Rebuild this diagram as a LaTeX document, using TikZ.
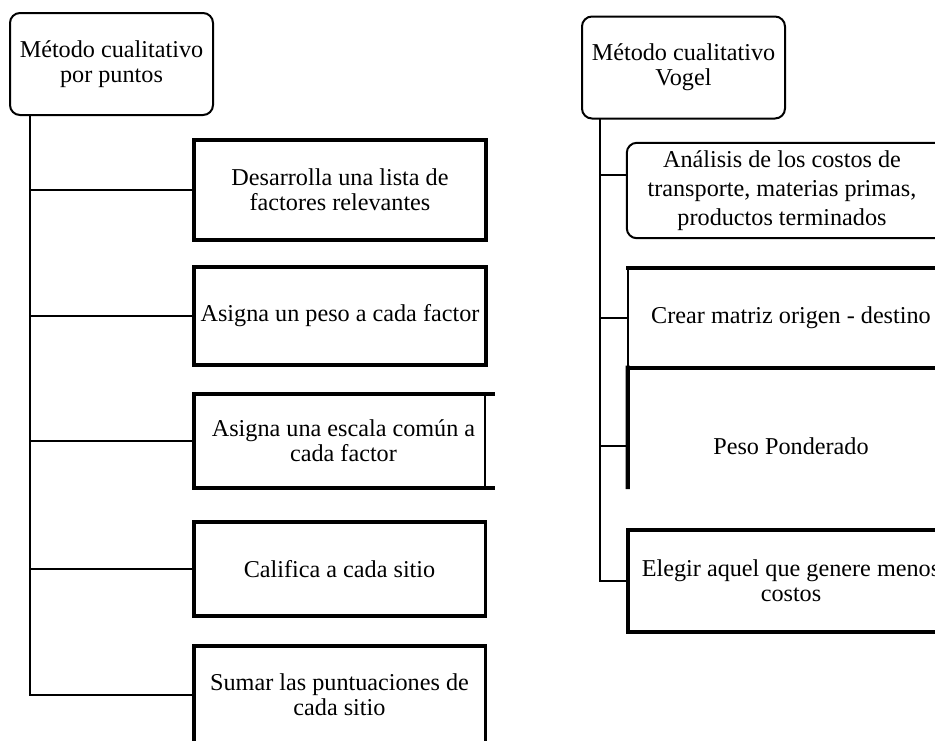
\documentclass[tikz,border=0pt]{standalone}
\usepackage{fontspec}
\setmainfont{Liberation Serif}
\usetikzlibrary{calc}
\begin{document}
\begin{tikzpicture}[x=1pt,y=-1pt,
  txt/.style={font=\fontsize{24.2}{25}\selectfont, align=center, inner sep=0pt, anchor=center},
  rootbox/.style={txt, draw, line width=2pt, rounded corners=10pt, minimum width=203pt, minimum height=102pt},
  conn/.style={line width=2pt},
  heavy/.style={line width=4.2pt, line cap=rect},
  mid/.style={line width=2.6pt, line cap=rect},
  light/.style={line width=2pt, line cap=rect}]
\useasboundingbox (0,0) rectangle (935,740);
\clip (0,0) rectangle (935,740);

% ---------- left tree ----------
\node[rootbox] (rootL) at (111.5,64) {Método cualitativo\\por puntos};
\coordinate (tL) at (30,115);

\node[txt, minimum width=292pt, minimum height=100pt] (b1) at (340,190) {Desarrolla una lista de\\factores relevantes};
\node[txt, minimum width=292pt, minimum height=98pt] (b2) at (340,316) {Asigna un peso a cada factor};
\node[txt, minimum width=299pt, minimum height=94pt] (b3) at (343.5,441) {Asigna una escala común a\\cada factor};
\node[txt, minimum width=291pt, minimum height=94pt] (b4) at (339.5,569) {Califica a cada sitio};
\node[txt, minimum width=291pt, minimum height=98pt] (b5) at (339.5,695) {Sumar las puntuaciones de\\cada sitio};

\draw[heavy] (b1.north west) rectangle (b1.south east);
\draw[heavy] (b2.north west) rectangle (b2.south east);
\draw[heavy] (b3.north east) -- (b3.north west) -- (b3.south west) -- (b3.south east);
\draw[light] ($(b3.north east)+(-8,0)$) -- ($(b3.south east)+(-8,0)$);
\draw[heavy] (b4.north east) -- (b4.north west) -- (b4.south west) -- (b4.south east);
\draw[mid] (b4.north east) -- (b4.south east);
\draw[heavy] (b5.north east) -- (b5.north west) -- (b5.south west) -- (b5.south east);
\draw[mid] (b5.north east) -- (b5.south east);

\draw[conn] (tL) |- (b5.west);
\draw[conn] (tL |- b1.west) -- (b1.west);
\draw[conn] (tL |- b2.west) -- (b2.west);
\draw[conn] (tL |- b3.west) -- (b3.west);
\draw[conn] (tL |- b4.west) -- (b4.west);

% ---------- right tree ----------
\node[rootbox] (rootR) at (683.5,67.5) {Método cualitativo\\Vogel};
\coordinate (tR) at (600,118.5);

\node[txt, font=\fontsize{24.2}{29}\selectfont,
      minimum width=310pt, minimum height=95pt] (A) at (782,190.5)
      {Análisis de los costos de\\transporte, materias primas,\\productos terminados};
\draw[line width=2pt, rounded corners=10pt] (A.north west) rectangle ($(A.south east)+(20,0)$);
\node[txt, minimum width=326pt, minimum height=100pt] (B) at (791,318) {Crear matriz origen - destino};
\node[txt, minimum width=326pt, minimum height=156pt] (C) at (791,446) {Peso Ponderado};
\node[txt, minimum width=326pt, minimum height=102pt] (D) at (791,581) {Elegir aquel que genere menos\\costos};

\draw[light] (B.north west) -- (B.south west);
\draw[heavy] (B.north west) -- (B.north east);
\draw[heavy] (C.north west) -- (C.north east);
\draw[heavy] (C.north west) -- ($(C.north west)!0.763!(C.south west)$);
\draw[heavy] (D.north west) rectangle (D.south east);

\coordinate (aY) at (0,175);
\draw[conn] (tR) |- (D.west);
\draw[conn] (tR |- aY) -- (A.west |- aY);
\draw[conn] (tR |- B.west) -- (B.west);
\draw[conn] (tR |- C.west) -- (C.west);
\end{tikzpicture}
\end{document}
